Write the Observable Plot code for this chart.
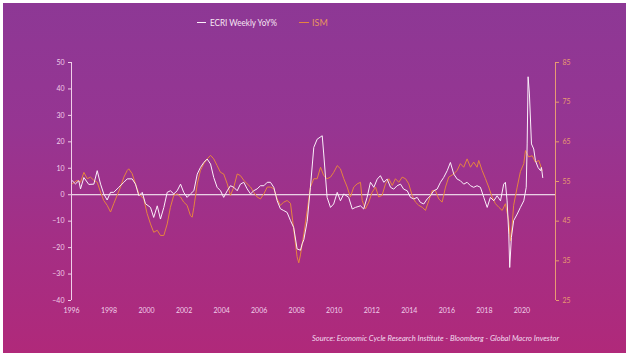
<!DOCTYPE html>
<html><head><meta charset="utf-8">
<script src="https://cdn.jsdelivr.net/npm/d3@7"></script>
<script src="https://cdn.jsdelivr.net/npm/@observablehq/plot@0.6"></script>
<style>
html,body{margin:0;padding:0;background:#fff;}
#wrap{position:relative;width:631px;height:359px;overflow:hidden;background:#fff;}
#bg{position:absolute;left:3px;top:3px;width:623px;height:350px;background:linear-gradient(180deg,#8d3895 0%,#963592 35%,#a52e84 70%,#b0297a 100%);}
#chart{position:absolute;left:0;top:0;}
</style></head><body>
<div id="wrap"><div id="bg"></div><div id="chart"></div></div>
<script>
// ECRI Weekly YoY% (left axis) : [decimal year, value]
const ecri = [
[1996.04,5.3],[1996.21,4.1],[1996.39,5.3],[1996.48,2.2],[1996.66,6.5],[1996.92,3.9],[1997.19,4],[1997.37,9.1],
[1997.55,4],[1997.72,0.3],[1997.90,-2],[1998.08,0.9],[1998.25,0.9],[1998.52,2.8],[1998.79,4.7],[1998.97,6],
[1999.23,6],[1999.41,4],[1999.59,-0.4],[1999.77,0.9],[1999.94,-3.4],[2000.21,-4.8],[2000.38,-8.6],[2000.57,-4.2],
[2000.74,-9.2],[2000.92,-4.8],[2001.10,0.9],[2001.27,1.5],[2001.45,0.3],[2001.63,1.5],[2001.81,4],[2001.98,0.9],
[2002.16,-1],[2002.34,0.3],[2002.52,1.5],[2002.70,7.8],[2002.87,10.3],[2003.05,12.2],[2003.23,13.5],[2003.41,11.6],
[2003.58,6.5],[2003.76,2.8],[2003.94,1.5],[2004.11,-1],[2004.30,1.5],[2004.47,3.4],[2004.65,2.8],[2004.83,1.5],
[2005.00,4],[2005.18,4.7],[2005.36,2.2],[2005.54,0.3],[2005.71,1.5],[2005.89,2.2],[2006.07,3.4],[2006.25,3.4],
[2006.43,4.7],[2006.60,4.7],[2006.78,2.8],[2006.96,-2.3],[2007.13,-5.3],[2007.31,-6],[2007.49,-6.7],[2007.67,-9.8],
[2007.84,-12.4],[2008.02,-20.5],[2008.20,-21],[2008.29,-18.6],[2008.38,-17],[2008.56,-10],[2008.73,2.8],[2008.91,17.9],
[2009.09,21],[2009.36,22.3],[2009.44,15.4],[2009.62,-1],[2009.80,-4.8],[2009.97,-3.5],[2010.16,0.9],[2010.33,-2.3],
[2010.51,0.3],[2010.77,-1],[2010.96,-5.4],[2011.13,-4.8],[2011.40,-4.2],[2011.57,-5.4],[2011.75,-1],[2011.93,4.7],
[2012.11,2.8],[2012.29,5.9],[2012.46,7.2],[2012.64,4.7],[2012.82,5.9],[2013.00,2.8],[2013.17,2.1],[2013.35,3.4],
[2013.53,4],[2013.70,2.1],[2013.89,1.5],[2014.06,-1],[2014.24,-1.6],[2014.42,-1],[2014.59,-2.9],[2014.77,-3.5],
[2014.95,-1.6],[2015.13,-0.4],[2015.30,1.5],[2015.48,2.1],[2015.66,4.7],[2015.83,6.5],[2016.02,9.1],[2016.19,12.2],
[2016.37,7.8],[2016.55,5.9],[2016.72,5.3],[2016.90,4],[2017.08,4.7],[2017.26,3.4],[2017.43,2.8],[2017.61,3.4],
[2017.79,2.8],[2017.97,-1],[2018.15,-4.8],[2018.32,-1],[2018.50,-2.3],[2018.68,-0.4],[2018.86,-2.3],[2019.03,4],
[2019.12,4.7],[2019.21,-2.3],[2019.30,-14.9],[2019.35,-27.5],[2019.44,-16.1],[2019.56,-9.8],[2019.75,-7.3],[2019.92,-4.8],
[2020.10,-2.3],[2020.23,2.8],[2020.28,19.2],[2020.33,44.6],[2020.40,38.1],[2020.51,19.2],[2020.63,17.3],[2020.72,12.9],
[2020.86,10.3],[2020.99,9.1],[2021.04,10.3],[2021.11,6.5]
];

// ISM (right axis) : [decimal year, value]
const ism = [
[1996.04,54.4],[1996.30,55.3],[1996.48,54.8],[1996.66,57.3],[1996.84,55.7],[1997.01,56.1],[1997.19,55.3],[1997.37,54.8],
[1997.55,52.3],[1997.72,50.2],[1997.90,49],[1998.08,47.3],[1998.25,49.4],[1998.43,51.5],[1998.61,53.6],[1998.79,56.1],
[1998.97,57.8],[1999.05,58.2],[1999.23,57],[1999.41,54.4],[1999.59,51.9],[1999.85,50.6],[2000.03,46.9],[2000.21,44.3],
[2000.38,42.2],[2000.57,42.7],[2000.74,41.4],[2000.92,41.4],[2001.10,44.3],[2001.27,48.5],[2001.45,51.5],[2001.63,51.9],
[2001.81,51.1],[2001.98,49.8],[2002.16,49],[2002.34,46.4],[2002.43,46],[2002.52,48.5],[2002.70,54.4],[2002.87,57.8],
[2003.05,59.5],[2003.23,60.7],[2003.41,61.6],[2003.58,60.7],[2003.76,59],[2003.94,57.3],[2004.11,56.9],[2004.30,54.4],
[2004.47,51.5],[2004.65,53.6],[2004.83,56.9],[2005.00,56.5],[2005.18,55.3],[2005.36,54.4],[2005.54,53.6],[2005.71,52.3],
[2005.89,51.1],[2006.07,50.6],[2006.25,51.9],[2006.43,53.6],[2006.60,53.6],[2006.78,53.2],[2006.96,50.6],[2007.13,49],
[2007.31,49.8],[2007.49,50.2],[2007.67,49.5],[2007.84,43],[2008.02,36],[2008.11,34.5],[2008.20,36.5],[2008.38,41.8],
[2008.56,47.7],[2008.73,53.6],[2008.91,55.7],[2009.09,55.7],[2009.27,58.6],[2009.44,56.5],[2009.62,55.7],[2009.80,56.1],
[2009.97,57.3],[2010.16,59],[2010.33,58.2],[2010.51,55.7],[2010.69,53.6],[2010.86,51.1],[2011.04,53.6],[2011.22,54.4],
[2011.40,54.8],[2011.49,50.2],[2011.66,48.1],[2011.84,49.8],[2012.02,52.3],[2012.20,53.6],[2012.37,51.1],[2012.55,51.5],
[2012.73,54.4],[2012.91,55.7],[2013.09,54],[2013.26,55.7],[2013.44,54.8],[2013.62,56.1],[2013.80,55.7],[2013.97,54.4],
[2014.15,51.5],[2014.33,49.8],[2014.50,49],[2014.69,48.5],[2014.86,47.7],[2015.04,50.2],[2015.22,52.7],[2015.39,52.7],
[2015.57,50.6],[2015.75,49.8],[2015.93,53.6],[2016.10,56.1],[2016.37,56.9],[2016.55,57.8],[2016.72,59.5],[2016.90,58.6],
[2017.08,60.7],[2017.26,58.6],[2017.43,59.9],[2017.61,58.6],[2017.70,60.3],[2017.88,57.8],[2018.06,55.7],[2018.23,53.6],
[2018.41,51.1],[2018.59,49.4],[2018.77,48.5],[2018.95,47.7],[2019.12,49.4],[2019.30,45],[2019.39,40],[2019.48,44],
[2019.56,49],[2019.75,53.6],[2019.92,57.5],[2020.10,59.5],[2020.19,62.8],[2020.36,61.2],[2020.55,61.5],[2020.72,59.9],
[2020.90,60.3],[2021.08,57.8]
];

const xTicks = [1996,1998,2000,2002,2004,2006,2008,2010,2012,2014,2016,2018,2020];
const leftTicks = [-40,-30,-20,-10,0,10,20,30,40,50];
const ismTicks = [25,35,45,55,65,75,85];
const seriesNames = ["ECRI Weekly YoY%", "ISM"];
const sourceText = "Source: Economic Cycle Research Institute - Bloomberg - Global Macro Investor";

const xEnd = 2021.79;
const leftDomain = [-40, 50];
const ismDomain = [25, 85];
const toLeft = v => (v - ismDomain[0]) / (ismDomain[1] - ismDomain[0]) * (leftDomain[1] - leftDomain[0]) + leftDomain[0];
const fromLeft = v => (v - leftDomain[0]) / (leftDomain[1] - leftDomain[0]) * (ismDomain[1] - ismDomain[0]) + ismDomain[0];

const ecriData = ecri.map(([t, v]) => ({t, v}));
const ismData = ism.map(([t, v]) => ({t, v: toLeft(v)}));

const WHITE = "#fbf0fa";
const ORANGE = "#e6843f";
const AXIS_L = "#f0cfe9";
const AXIS_R = "#e99a72";
const FONT = "Lato, 'Open Sans', sans-serif";

const plot = Plot.plot({
  width: 631, height: 359,
  marginLeft: 71, marginRight: 76, marginTop: 62, marginBottom: 59,
  x: {domain: [1996, xEnd]},
  y: {domain: leftDomain},
  style: {background: "transparent", fontFamily: FONT, fontSize: "7px", overflow: "visible"},
  marks: [
    Plot.ruleY([0], {stroke: "#ffffff", strokeWidth: 1}),
    Plot.ruleX([1996], {y1: leftDomain[0], y2: leftDomain[1], stroke: AXIS_L, strokeWidth: 1}),
    Plot.ruleX([xEnd], {y1: leftDomain[0], y2: leftDomain[1], stroke: AXIS_R, strokeWidth: 1}),
    Plot.axisY(leftTicks, {anchor: "left", tickSize: 3, tickPadding: 4, stroke: AXIS_L, fill: AXIS_L, label: null}),
    Plot.axisY(ismTicks.map(toLeft), {anchor: "right", tickSize: 3, tickPadding: 4, stroke: AXIS_R, fill: AXIS_R, label: null, tickFormat: d => String(Math.round(fromLeft(d)))}),
    Plot.axisX(xTicks, {anchor: "bottom", tickSize: 0, tickPadding: 8, fill: AXIS_L, label: null, tickFormat: d => String(d)}),
    Plot.line(ismData, {x: "t", y: "v", stroke: ORANGE, strokeWidth: 1}),
    Plot.line(ecriData, {x: "t", y: "v", stroke: WHITE, strokeWidth: 1})
  ]
});

const svg = d3.select(plot);
const lg = svg.append("g").attr("font-family", FONT).attr("font-size", 9).attr("text-anchor", "start");
lg.append("line").attr("x1", 197).attr("x2", 206).attr("y1", 22.5).attr("y2", 22.5).attr("stroke", WHITE);
lg.append("text").attr("x", 210).attr("y", 25.5).attr("fill", "#f6e6f3")
  .attr("textLength", 67).attr("lengthAdjust", "spacingAndGlyphs").text(seriesNames[0]);
lg.append("line").attr("x1", 299).attr("x2", 309).attr("y1", 22.5).attr("y2", 22.5).attr("stroke", ORANGE);
lg.append("text").attr("x", 312).attr("y", 25.5).attr("fill", "#e8955f").text(seriesNames[1]);
svg.append("text").attr("x", 312).attr("y", 341).attr("fill", "#f3dcef").attr("text-anchor", "start")
  .attr("font-family", FONT).attr("font-style", "italic").attr("font-size", 7.5)
  .attr("textLength", 247).attr("lengthAdjust", "spacingAndGlyphs").text(sourceText);

document.getElementById("chart").appendChild(plot);
</script>
</body></html>
